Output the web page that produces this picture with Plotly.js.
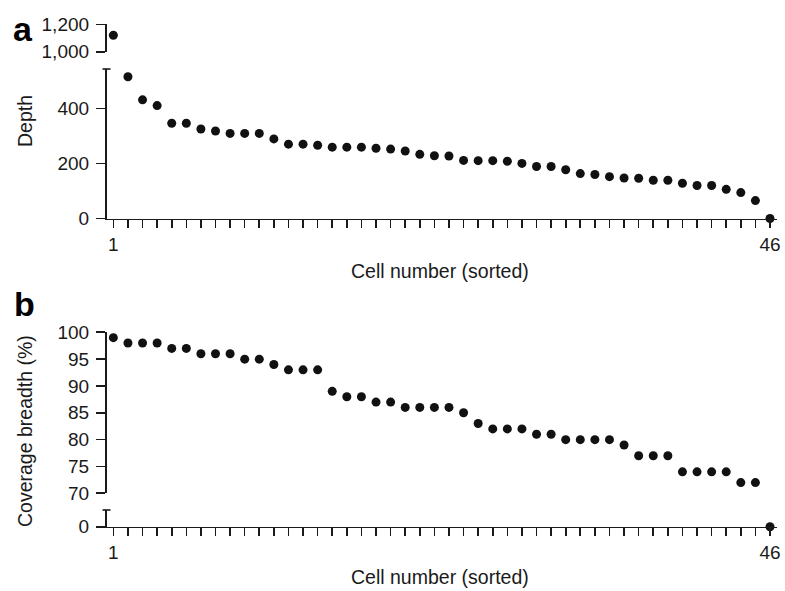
<!DOCTYPE html>
<html>
<head>
<meta charset="utf-8">
<script src="https://cdn.plot.ly/plotly-3.0.1.min.js"></script>
<style>html,body{margin:0;padding:0;background:#fff;}#chart{width:785px;height:591px;}</style>
</head>
<body>
<div id="chart"></div>
<script>
// ---- data ----
const cellNumbers = Array.from({length: 46}, (_, i) => i + 1);
const depth = [1120, 515, 431, 410, 346, 346, 325, 318, 309, 309, 309, 289, 270, 270, 266, 259, 259, 259, 255, 252,
               245, 233, 228, 227, 211, 210, 210, 208, 200, 189, 189, 177, 163, 160, 152, 147, 146, 139, 139, 128,
               120, 120, 106, 94, 65, 0];
const coverage = [99, 98, 98, 98, 97, 97, 96, 96, 96, 95, 95, 94, 93, 93, 93, 89, 88, 88, 87, 87,
                  86, 86, 86, 86, 85, 83, 82, 82, 82, 81, 81, 80, 80, 80, 80, 79, 77, 77, 77, 74,
                  74, 74, 74, 72, 72, 0];
const xTickLabels = cellNumbers.map(n => (n === 1 || n === 46) ? String(n) : '');
const depthLowTicks = [0, 200, 400];
const depthLowText = ['0', '200', '400'];
const depthHighTicks = [1000, 1200];
const depthHighText = ['1,000', '1,200'];
const covHighTicks = [70, 75, 80, 85, 90, 95, 100];
const covLowTicks = [0];
const depthBreak = 1000;
const covBreak = 70;

// ---- helpers ----
const W = 785, H = 591;
const px = v => v / W;
const py = v => 1 - v / H;
const FONT = 'Liberation Sans, Arial, Helvetica, sans-serif';
const INK = '#1a1a1a';

function split(xs, ys, test) {
  const ox = [], oy = [];
  xs.forEach((x, i) => { if (test(ys[i])) { ox.push(x); oy.push(ys[i]); } });
  return {x: ox, y: oy};
}
const marker = {color: '#111', size: 9};
const dLow = split(cellNumbers, depth, v => v < depthBreak);
const dHigh = split(cellNumbers, depth, v => v >= depthBreak);
const cLow = split(cellNumbers, coverage, v => v < covBreak);
const cHigh = split(cellNumbers, coverage, v => v >= covBreak);

const traces = [
  {x: dLow.x, y: dLow.y, xaxis: 'x', yaxis: 'y', mode: 'markers', type: 'scatter', marker, cliponaxis: false},
  {x: dHigh.x, y: dHigh.y, xaxis: 'x', yaxis: 'y2', mode: 'markers', type: 'scatter', marker, cliponaxis: false},
  {x: cLow.x, y: cLow.y, xaxis: 'x2', yaxis: 'y3', mode: 'markers', type: 'scatter', marker, cliponaxis: false},
  {x: cHigh.x, y: cHigh.y, xaxis: 'x2', yaxis: 'y4', mode: 'markers', type: 'scatter', marker, cliponaxis: false}
];

const xDomain = [px(106.5), px(777)];
const xRange = [0.53, 46.48];
const tickFont = {family: FONT, size: 19, color: INK};

function xAxis(anchor) {
  return {
    domain: xDomain, range: xRange, anchor,
    showline: true, linecolor: INK, linewidth: 1.6,
    showgrid: false, zeroline: false,
    ticks: 'outside', ticklen: 8, tickwidth: 1.6, tickcolor: INK,
    tickmode: 'array', tickvals: cellNumbers, ticktext: xTickLabels,
    tickfont: tickFont, ticklabelstandoff: 0, fixedrange: true
  };
}
function yAxis(anchor, domain, range, tickvals, ticktext) {
  return {
    domain, range, anchor,
    showline: true, linecolor: INK, linewidth: 1.6,
    showgrid: false, zeroline: false,
    ticks: 'outside', ticklen: 9, tickwidth: 1.6, tickcolor: INK,
    tickmode: 'array', tickvals, ticktext: ticktext || tickvals.map(String),
    tickfont: tickFont, ticklabelstandoff: 3, fixedrange: true
  };
}

const capHalf = 4;
function cap(yref) {
  return {type: 'line', xref: 'paper', yref: yref + ' domain',
          x0: px(106.5 - capHalf), x1: px(106.5 + capHalf), y0: 1, y1: 1,
          line: {color: INK, width: 1.6}};
}

const titleFont = {family: FONT, size: 19.5, color: INK};
const letterFont = {family: FONT, size: 34, color: '#000', weight: 'bold'};

const layout = {
  width: W, height: H,
  margin: {l: 0, r: 0, t: 0, b: 0},
  paper_bgcolor: '#fff', plot_bgcolor: 'rgba(0,0,0,0)',
  showlegend: false,
  xaxis: xAxis('y'),
  yaxis: yAxis('x', [py(218.5), py(69)], [0, 543], depthLowTicks, depthLowText),
  yaxis2: yAxis('x', [py(51.7), py(24.3)], [1000, 1200], depthHighTicks, depthHighText),
  xaxis2: xAxis('y3'),
  yaxis3: yAxis('x2', [py(526.7), py(510)], [0, 1], covLowTicks),
  yaxis4: yAxis('x2', [py(493.3), py(332.3)], [70, 100], covHighTicks),
  shapes: [cap('y'), cap('y3')],
  annotations: [
    {text: 'a', x: px(23), y: py(29), xref: 'paper', yref: 'paper', xanchor: 'center', yanchor: 'middle', showarrow: false, font: letterFont},
    {text: 'b', x: px(24.5), y: py(304), xref: 'paper', yref: 'paper', xanchor: 'center', yanchor: 'middle', showarrow: false, font: letterFont},
    {text: 'Depth', x: px(25), y: py(121), xref: 'paper', yref: 'paper', xanchor: 'center', yanchor: 'middle', textangle: -90, showarrow: false, font: titleFont},
    {text: 'Coverage breadth (%)', x: px(25), y: py(431), xref: 'paper', yref: 'paper', xanchor: 'center', yanchor: 'middle', textangle: -90, showarrow: false, font: titleFont},
    {text: 'Cell number (sorted)', x: px(440), y: py(270.5), xref: 'paper', yref: 'paper', xanchor: 'center', yanchor: 'middle', showarrow: false, font: titleFont},
    {text: 'Cell number (sorted)', x: px(440), y: py(577), xref: 'paper', yref: 'paper', xanchor: 'center', yanchor: 'middle', showarrow: false, font: titleFont}
  ]
};

Plotly.newPlot('chart', traces, layout, {displayModeBar: false, staticPlot: true});
</script>
</body>
</html>
